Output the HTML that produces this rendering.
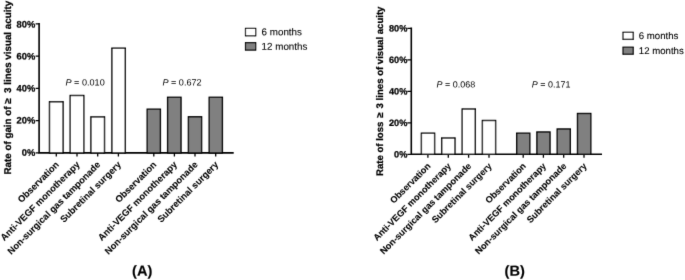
<!DOCTYPE html>
<html><head><meta charset="utf-8">
<style>
html,body{margin:0;padding:0;background:#fff;}
svg{display:block;will-change:transform;}
text{font-family:"Liberation Sans",sans-serif;fill:#000;text-rendering:geometricPrecision;}
.b{font-weight:bold;font-size:9.35px;stroke:#000;stroke-width:0.25px;}
.t{font-size:9.8px;}
.x{font-size:9.25px;stroke-width:0.1px;}
.p{font-size:9.1px;}
.l{font-size:9.8px;stroke:#000;stroke-width:0.1px;}
#B .b{font-size:9.2px;}
#B .x{font-size:9.1px;}
#B .p{font-size:8.96px;}
#B .l{font-size:9.63px;}
.c{font-weight:bold;font-size:14.6px;stroke:#000;stroke-width:0.15px;}
.ax{stroke:#000;stroke-width:1.6;fill:none;}
.tk{stroke:#000;stroke-width:1.3;fill:none;}
.w{fill:#fff;stroke:#000;stroke-width:1.4;}
.g{fill:#808080;stroke:#000;stroke-width:1.4;}
</style></head><body>
<svg width="685" height="280" viewBox="0 0 685 280">
<defs><filter id="bl" x="0" y="0" width="685" height="280" filterUnits="userSpaceOnUse"><feConvolveMatrix order="3" kernelMatrix="0.0081 0.0738 0.0081 0.0738 0.6724 0.0738 0.0081 0.0738 0.0081" edgeMode="duplicate" preserveAlpha="false"/></filter></defs>
<rect width="685" height="280" fill="#fff"/>
<g filter="url(#bl)">
<!-- ===== Chart A ===== -->
<g id="A">
<path class="ax" d="M39.1,23.1V152.9H233.7"/>
<path class="tk" d="M35.6,23.9H39M35.6,56.15H39M35.6,88.4H39M35.6,120.65H39M35.6,152.9H39"/>
<path class="tk" d="M56.3,152.9V156.5M77,152.9V156.5M97.7,152.9V156.5M118.4,152.9V156.5M153.8,152.9V156.5M174.4,152.9V156.5M195,152.9V156.5M215.7,152.9V156.5"/>
<g class="b" text-anchor="end">
<text transform="translate(35.2,27.4) rotate(-0.03)">80%</text>
<text transform="translate(35.2,59.5) rotate(-0.03)">60%</text>
<text transform="translate(35.2,91.6) rotate(-0.03)">40%</text>
<text transform="translate(35.2,123.6) rotate(-0.03)">20%</text>
<text transform="translate(35.2,155.7) rotate(-0.03)">0%</text>
</g>
<rect class="w" x="49.5" y="101.8" width="13.6" height="51.1"/>
<rect class="w" x="70.2" y="95.5" width="13.6" height="57.4"/>
<rect class="w" x="90.9" y="116.9" width="13.6" height="36.0"/>
<rect class="w" x="111.9" y="48.2" width="13.4" height="104.7"/>
<rect class="g" x="147.2" y="109.2" width="13.2" height="43.7"/>
<rect class="g" x="167.6" y="97.3" width="13.4" height="55.6"/>
<rect class="g" x="188.4" y="116.8" width="13.2" height="36.1"/>
<rect class="g" x="209.2" y="97.3" width="13.2" height="55.6"/>
<text class="b t" transform="translate(10.7,87.7) rotate(-90)" text-anchor="middle">Rate of gain of ≥&#160; 3 lines visual acuity</text>
<text class="p" transform="translate(65.5,85.5) rotate(-0.03)"><tspan font-style="italic">P</tspan> = 0.010</text>
<text class="p" transform="translate(162.4,85.5) rotate(-0.03)"><tspan font-style="italic">P</tspan> = 0.672</text>
<g class="b x" text-anchor="end">
<text transform="translate(59.6,165.2) rotate(-45)">Observation</text>
<text transform="translate(80.3,165.2) rotate(-45)">Anti-VEGF monotherapy</text>
<text transform="translate(101.0,165.2) rotate(-45)">Non-surgical gas tamponade</text>
<text transform="translate(121.7,165.2) rotate(-45)">Subretinal surgery</text>
<text transform="translate(157.1,165.2) rotate(-45)">Observation</text>
<text transform="translate(177.7,165.2) rotate(-45)">Anti-VEGF monotherapy</text>
<text transform="translate(198.3,165.2) rotate(-45)">Non-surgical gas tamponade</text>
<text transform="translate(219.0,165.2) rotate(-45)">Subretinal surgery</text>
</g>
<rect class="w" x="245.5" y="28.4" width="10.2" height="7.4" style="stroke-width:1.2"/>
<rect class="g" x="245.5" y="42.7" width="10.2" height="7.4" style="stroke-width:1.2"/>
<text class="l" transform="translate(261.6,35.3) rotate(-0.03)">6 months</text>
<text class="l" transform="translate(261.6,49.8) rotate(-0.03)">12 months</text>
<text class="c" transform="translate(142.2,275.7) rotate(-0.03)" text-anchor="middle">(A)</text>
</g>
<!-- ===== Chart B ===== -->
<g id="B">
<path class="ax" d="M411.3,27.6V154.3H602"/>
<path class="tk" d="M407.3,28.3H411.3M407.3,59.8H411.3M407.3,91.3H411.3M407.3,122.8H411.3M407.3,154.3H411.3"/>
<path class="tk" d="M427.9,154.3V157.8M448.3,154.3V157.8M468.6,154.3V157.8M489,154.3V157.8M523.2,154.3V157.8M543.4,154.3V157.8M563.7,154.3V157.8M584,154.3V157.8"/>
<g class="b" text-anchor="end">
<text transform="translate(407.3,31.5) rotate(-0.03)">80%</text>
<text transform="translate(407.3,63.0) rotate(-0.03)">60%</text>
<text transform="translate(407.3,94.5) rotate(-0.03)">40%</text>
<text transform="translate(407.3,126.0) rotate(-0.03)">20%</text>
<text transform="translate(407.3,157.5) rotate(-0.03)">0%</text>
</g>
<rect class="w" x="421.4" y="133.2" width="13.2" height="21.1"/>
<rect class="w" x="441.7" y="138" width="13.3" height="16.3"/>
<rect class="w" x="462.2" y="109" width="13.1" height="45.3"/>
<rect class="w" x="482.4" y="120.5" width="13.2" height="33.8"/>
<rect class="g" x="516.7" y="133.2" width="13.1" height="21.1"/>
<rect class="g" x="536.9" y="132" width="13.1" height="22.3"/>
<rect class="g" x="557.2" y="129" width="13.1" height="25.3"/>
<rect class="g" x="577.5" y="113.5" width="13.3" height="40.8"/>
<text class="b t" style="font-size:9.6px" transform="translate(383.4,91.3) rotate(-90)" text-anchor="middle">Rate of loss <tspan dx="1.2">≥</tspan><tspan dx="-1.2">&#160;</tspan> 3 lines of visual acuity</text>
<text class="p" transform="translate(436.6,87.6) rotate(-0.03)"><tspan font-style="italic">P</tspan> = 0.068</text>
<text class="p" transform="translate(531.8,87.6) rotate(-0.03)"><tspan font-style="italic">P</tspan> = 0.171</text>
<g class="b x" text-anchor="end">
<text transform="translate(431.2,166.6) rotate(-45)">Observation</text>
<text transform="translate(451.6,166.6) rotate(-45)">Anti-VEGF monotherapy</text>
<text transform="translate(471.9,166.6) rotate(-45)">Non-surgical gas tamponade</text>
<text transform="translate(492.3,166.6) rotate(-45)">Subretinal surgery</text>
<text transform="translate(526.5,166.6) rotate(-45)">Observation</text>
<text transform="translate(546.7,166.6) rotate(-45)">Anti-VEGF monotherapy</text>
<text transform="translate(567.0,166.6) rotate(-45)">Non-surgical gas tamponade</text>
<text transform="translate(587.3,166.6) rotate(-45)">Subretinal surgery</text>
</g>
<rect class="w" x="623" y="32.3" width="10.2" height="7" style="stroke-width:1.2"/>
<rect class="g" x="623" y="47.2" width="10.2" height="7" style="stroke-width:1.2"/>
<text class="l" transform="translate(638.8,38.9) rotate(-0.03)">6 months</text>
<text class="l" transform="translate(638.8,53.9) rotate(-0.03)">12 months</text>
<text class="c" transform="translate(514.7,275.7) rotate(-0.03)" text-anchor="middle">(B)</text>
</g>
</g>
</svg>
</body></html>
